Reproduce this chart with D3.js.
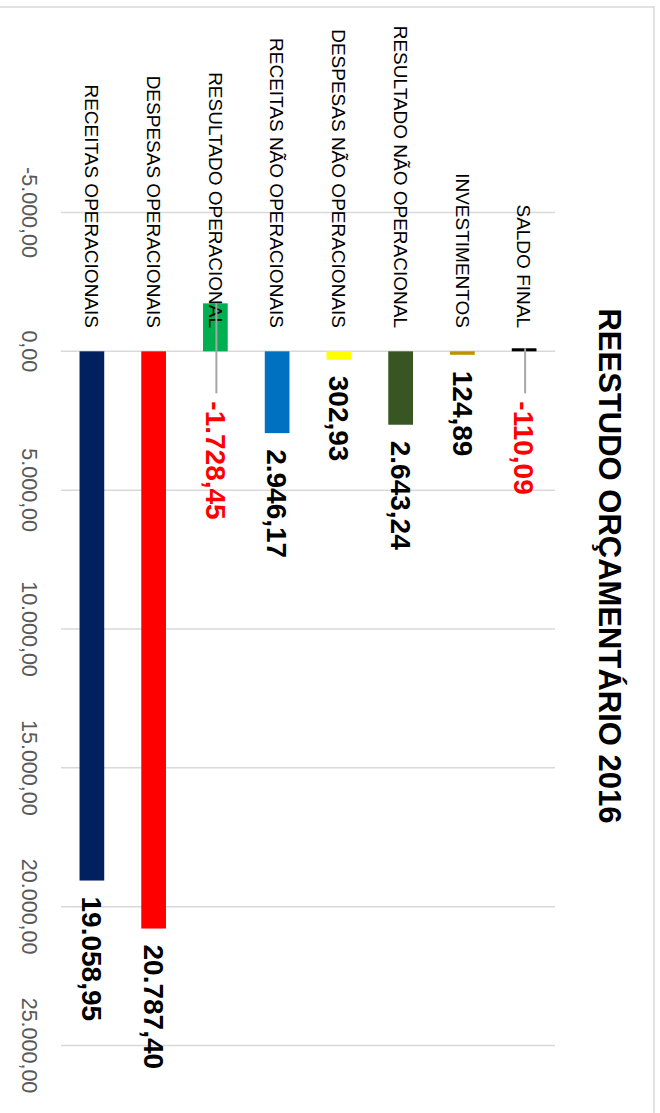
<!DOCTYPE html>
<html>
<head>
<meta charset="utf-8">
<script src="https://cdn.jsdelivr.net/npm/d3@7"></script>
<style>
  html, body { margin: 0; padding: 0; background: #fff; }
  svg { display: block; }
  text { font-family: "Liberation Sans", Arial, sans-serif; }
</style>
</head>
<body>
<svg id="chart" width="660" height="1113"></svg>
<script>
const categories = [
  "RECEITAS OPERACIONAIS",
  "DESPESAS OPERACIONAIS",
  "RESULTADO OPERACIONAL",
  "RECEITAS NÃO OPERACIONAIS",
  "DESPESAS NÃO OPERACIONAIS",
  "RESULTADO NÃO OPERACIONAL",
  "INVESTIMENTOS",
  "SALDO FINAL"
];
const values = [19058.95, 20787.40, -1728.45, 2946.17, 302.93, 2643.24, 124.89, -110.09];
const tickValues = [-5000, 0, 5000, 10000, 15000, 20000, 25000];
const titleText = "REESTUDO ORÇAMENTÁRIO 2016";

const barColors = ["#002060", "#FF0000", "#00B050", "#0070C0", "#FFFF00", "#375623", "#BF9000", "#000000"];

const ptBR = d3.formatLocale({decimal: ",", thousands: ".", grouping: [3], currency: ["R$ ", ""], minus: "-"});
const fmt = ptBR.format(",.2f");

const svg = d3.select("#chart");
svg.append("rect").attr("width", 660).attr("height", 1113).attr("fill", "#fff");

// chart border (only top and right visible)
svg.append("rect")
  .attr("x", -20).attr("y", 7).attr("width", 674).attr("height", 1140)
  .attr("fill", "none").attr("stroke", "#d9d9d9").attr("stroke-width", 1.5);

const x = d3.scaleBand().domain(categories).range([61, 555]).paddingInner(0.6).paddingOuter(0.3);
const y = d3.scaleLinear().domain([-5000, 25000]).range([212.5, 1045.5]);

// gridlines
svg.append("g").selectAll("line").data(tickValues).join("line")
  .attr("x1", 61).attr("x2", 555)
  .attr("y1", d => y(d)).attr("y2", d => y(d))
  .attr("stroke", "#d9d9d9").attr("stroke-width", 1.5);

// tick labels
svg.append("g").selectAll("text").data(tickValues).join("text")
  .attr("transform", d => `translate(30,${y(d)}) rotate(90)`)
  .attr("text-anchor", "middle").attr("dy", "0.35em")
  .attr("fill", "#595959").attr("font-size", 21.5)
  .text(d => fmt(d));

const data = categories.map((c, i) => ({cat: c, v: values[i], color: barColors[i]}));

// bars
svg.append("g").selectAll("rect").data(data).join("rect")
  .attr("x", d => x(d.cat)).attr("width", x.bandwidth())
  .attr("y", d => Math.min(y(0), y(d.v)))
  .attr("height", d => Math.abs(y(d.v) - y(0)))
  .attr("fill", d => d.color);

// category labels
svg.append("g").selectAll("text").data(data).join("text")
  .attr("transform", d => `translate(${x(d.cat) + x.bandwidth() / 2},328) rotate(90)`)
  .attr("text-anchor", "end").attr("dy", "0.35em")
  .attr("fill", "#000").attr("font-size", 19)
  .text(d => d.cat);

// leader lines for negative labels
svg.append("g").selectAll("line").data(data.filter(d => d.v < 0)).join("line")
  .attr("x1", d => x(d.cat) + x.bandwidth() / 2 + 1)
  .attr("x2", d => x(d.cat) + x.bandwidth() / 2 + 1)
  .attr("y1", d => y(d.v)).attr("y2", y(0) + 42)
  .attr("stroke", "#a6a6a6").attr("stroke-width", 2);

// value labels
svg.append("g").selectAll("text").data(data).join("text")
  .attr("transform", d => {
    const cx = x(d.cat) + x.bandwidth() / 2;
    const ly = d.v < 0 ? y(0) + 50 : y(d.v) + 16;
    return `translate(${cx},${ly}) rotate(90)`;
  })
  .attr("text-anchor", "start").attr("dy", "0.35em")
  .attr("font-weight", "bold").attr("font-size", 28)
  .attr("fill", d => d.v < 0 ? "#FF0000" : "#000")
  .text(d => fmt(d.v));

// title
svg.append("text")
  .attr("transform", "translate(610,566) rotate(90)")
  .attr("text-anchor", "middle").attr("dy", "0.35em")
  .attr("font-weight", "bold").attr("font-size", 31)
  .attr("fill", "#000")
  .text(titleText);
</script>
</body>
</html>
